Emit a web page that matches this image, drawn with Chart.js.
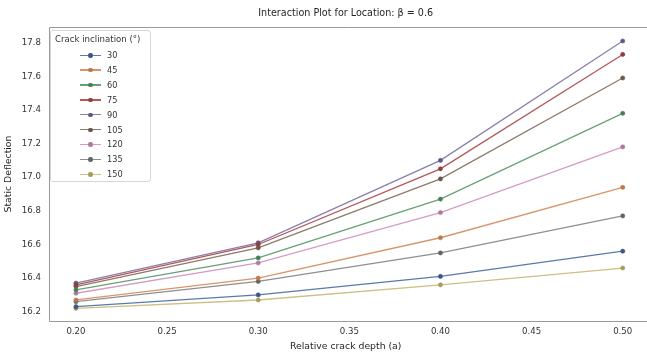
<!DOCTYPE html>
<html>
<head>
<meta charset="utf-8">
<script src="https://cdn.jsdelivr.net/npm/chart.js@4/dist/chart.umd.min.js"></script>
<style>
  html, body { margin: 0; padding: 0; background: #fff; }
  #wrap { position: relative; width: 647px; height: 354px; }
  #legend {
    position: absolute; left: 50px; top: 30px; width: 101px; height: 152px;
    border: 1px solid #d6d6d6; border-radius: 3px; background: rgba(255,255,255,0.85);
    font-family: "DejaVu Sans", sans-serif; color: #333; box-sizing: border-box;
  }
  #legend .ttl { position: absolute; left: 4px; top: 3px; font-size: 8.6px; white-space: nowrap; }
  #legend .item { position: absolute; left: 0; height: 12px; width: 100px; }
  #legend .ln { position: absolute; left: 29px; top: 5.5px; width: 21px; height: 1.4px; }
  #legend .dot { position: absolute; left: 37px; top: 4px; width: 4.5px; height: 4.5px; border-radius: 50%; }
  #legend .lab { position: absolute; left: 56px; top: 0; font-size: 8.2px; line-height: 12px; }
</style>
</head>
<body>
<div id="wrap">
  <canvas id="c" width="647" height="354"></canvas>
  <div id="legend"></div>
</div>
<script>
// ---- data ----
const depths = [0.20, 0.30, 0.40, 0.50];
const inclinations = ["30", "45", "60", "75", "90", "105", "120", "135", "150"];
const s30  = [16.23, 16.30, 16.41, 16.56];
const s45  = [16.27, 16.40, 16.64, 16.94];
const s60  = [16.33, 16.52, 16.87, 17.38];
const s75  = [16.36, 16.60, 17.05, 17.73];
const s90  = [16.37, 16.61, 17.10, 17.81];
const s105 = [16.35, 16.58, 16.99, 17.59];
const s120 = [16.31, 16.49, 16.79, 17.18];
const s135 = [16.26, 16.38, 16.55, 16.77];
const s150 = [16.22, 16.27, 16.36, 16.46];
const xTicks = [0.20, 0.25, 0.30, 0.35, 0.40, 0.45, 0.50];
const yTicks = [16.2, 16.4, 16.6, 16.8, 17.0, 17.2, 17.4, 17.6, 17.8];

const seriesList = [s30, s45, s60, s75, s90, s105, s120, s135, s150];
const colors = ["#5a7aab", "#d9956a", "#66a276", "#b2585b", "#8a80ad", "#8d7a6a", "#d59cc4", "#8f8f8f", "#cdbf85"];
const dotColors = ["#3d5684", "#b97a4c", "#467f55", "#8e3f42", "#5f5787", "#67564a", "#b078a0", "#646464", "#a89a5a"];

const datasets = seriesList.map((s, i) => ({
  label: inclinations[i],
  data: s.map((v, j) => ({ x: depths[j], y: v })),
  borderColor: colors[i],
  backgroundColor: dotColors[i],
  pointBorderColor: dotColors[i],
  borderWidth: 1.3,
  pointRadius: 2.1,
  pointBorderWidth: 0.6,
  tension: 0
}));

// legend (HTML, real text)
const lg = document.getElementById('legend');
const t = document.createElement('div'); t.className = 'ttl'; t.textContent = 'Crack inclination (°)'; lg.appendChild(t);
inclinations.forEach((lab, i) => {
  const it = document.createElement('div'); it.className = 'item';
  it.style.top = (18 + i * 14.9) + 'px';
  it.innerHTML = '<span class="ln" style="background:' + colors[i] + '"></span>' +
                 '<span class="dot" style="background:' + dotColors[i] + '"></span>' +
                 '<span class="lab">' + lab + '</span>';
  lg.appendChild(it);
});

const frame = {
  id: 'frame',
  afterDatasetsDraw(chart) {
    const { ctx, chartArea: a } = chart;
    ctx.save();
    ctx.strokeStyle = '#9a9a9a';
    ctx.lineWidth = 1;
    ctx.beginPath();
    ctx.moveTo(chart.width, a.top + 0.5);
    ctx.lineTo(a.left + 0.5, a.top + 0.5);
    ctx.lineTo(a.left + 0.5, a.bottom + 0.5);
    ctx.lineTo(chart.width, a.bottom + 0.5);
    ctx.stroke();
    ctx.restore();
  }
};

const font = "'DejaVu Sans', sans-serif";
new Chart(document.getElementById('c'), {
  type: 'line',
  data: { datasets },
  plugins: [frame],
  options: {
    responsive: false,
    animation: false,
    layout: { padding: 0 },
    plugins: {
      legend: { display: false },
      tooltip: { enabled: false },
      title: {
        display: true,
        fullSize: false,
        text: 'Interaction Plot for Location: β = 0.6',
        color: '#262626',
        font: { family: font, size: 9.6, weight: 'normal' },
        padding: { top: 8, bottom: 7.5 }
      }
    },
    scales: {
      x: {
        type: 'linear',
        min: 0.1852,
        max: 0.5108,
        afterBuildTicks: (s) => { s.ticks = xTicks.map(v => ({ value: v })); },
        afterFit: (s) => { s.height = 33; },
        grid: { display: false, drawTicks: false },
        border: { display: false },
        ticks: {
          color: '#333', font: { family: font, size: 8.6 }, padding: 6,
          maxRotation: 0, autoSkip: false,
          callback: (v) => Number(v).toFixed(2)
        },
        title: {
          display: true, text: 'Relative crack depth (a)', color: '#262626',
          font: { family: font, size: 9.3 }, padding: { top: 0, bottom: 2 }
        }
      },
      y: {
        min: 16.145,
        max: 17.893,
        afterBuildTicks: (s) => { s.ticks = yTicks.map(v => ({ value: v })); },
        afterFit: (s) => { s.width = 49; },
        grid: { display: false, drawTicks: false },
        border: { display: false },
        ticks: {
          color: '#333', font: { family: font, size: 8.6 }, padding: 8,
          autoSkip: false,
          callback: (v) => Number(v).toFixed(1)
        },
        title: {
          display: true, text: 'Static Deflection', color: '#262626',
          font: { family: font, size: 9.3 }, padding: { top: 3, bottom: 0 }
        }
      }
    }
  }
});
</script>
</body>
</html>
